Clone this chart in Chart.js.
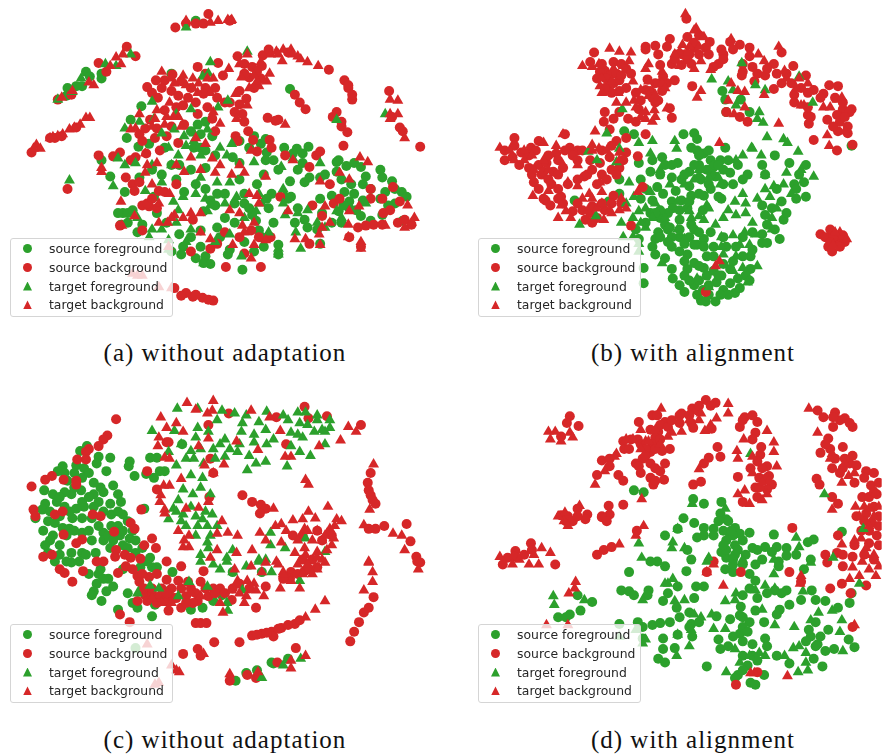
<!DOCTYPE html>
<html>
<head>
<meta charset="utf-8">
<title>t-SNE panels</title>
<script src="https://cdn.jsdelivr.net/npm/chart.js@4"></script>
<style>
  html, body { margin: 0; padding: 0; background: #fff; }
  #page { position: relative; width: 888px; height: 756px; overflow: hidden; }
  canvas { position: absolute; }
  .legend { position: absolute; width: 161px; height: 77px; border: 1px solid #d5d5d5; border-radius: 3px;
    background: rgba(255,255,255,0.8); font: 12.4px "DejaVu Sans"; color: #262626; }
  .legend div { position: absolute; left: 38px; white-space: nowrap; line-height: 16px; }
  .legend i { position: absolute; left: -26px; top: 3px; width: 9px; height: 9px; }
  .caption { position: absolute; width: 444px; text-align: center; font: 25px "Liberation Serif"; letter-spacing: 1px; color: #111; white-space: nowrap; }
</style>
</head>
<body>
<div id="page"></div>
<script>
const seriesNames = ['source foreground', 'source background', 'target foreground', 'target background'];
const seriesColors = ['#2ca02c', '#d62728', '#2ca02c', '#d62728'];
const seriesShapes = ['circle', 'circle', 'triangle', 'triangle'];

// panel (a)
const aSrcFg = [[195,15],[82,68],[86,73],[98,70],[98,75],[63,85],[78,83],[72,83],[62,93],[139,104],[128,118],[124,137],[136,146],[147,143],[98,160],[197,123],[200,133],[193,147],[200,147],[170,70],[163,147],[292,86],[250,147],[262,143],[267,138],[268,152],[267,160],[240,163],[233,157],[286,147],[299,148],[311,146],[305,153],[295,153],[340,162],[342,160],[350,166],[358,163],[365,167],[305,163],[107,177],[122,193],[120,215],[118,227],[137,178],[152,198],[140,227],[125,215],[183,193],[210,202],[217,195],[215,207],[203,213],[217,230],[200,233],[178,237],[182,250],[180,258],[200,250],[205,260],[203,267],[230,253],[228,258],[243,274],[257,223],[260,233],[263,240],[253,217],[280,248],[280,258],[273,195],[292,182],[287,198],[293,198],[307,183],[323,178],[328,175],[340,172],[323,200],[335,197],[348,193],[353,203],[358,195],[367,202],[365,218],[375,223],[370,177],[367,185],[387,178],[397,182],[390,193],[407,193],[412,198],[393,207],[387,217],[408,223],[307,222],[310,230],[320,232],[297,225],[325,215],[342,213],[353,210],[347,207],[323,247],[170,165],[205,168],[240,180],[258,185],[268,200],[245,205],[225,220],[205,120],[190,130],[212,135],[205,150],[215,155],[178,165],[190,170],[150,170],[160,175],[175,180],[195,185],[205,190],[225,195],[235,205],[245,195],[250,210],[270,210],[275,225],[265,250],[255,255],[245,245],[235,225],[220,240],[190,240],[170,255],[195,262],[210,268],[300,170],[312,178],[345,180],[355,185],[375,190],[385,200],[400,205],[385,170],[400,190],[300,210],[290,200],[335,225],[345,225],[360,212],[240,140],[255,135],[275,160],[280,170],[265,175],[130,212],[125,225],[135,235],[155,215],[165,225],[115,215]];
const aSrcBg = [[174,22],[185,18],[195,18],[208,8],[203,18],[230,15],[124,42],[133,52],[95,59],[103,68],[67,92],[53,97],[72,126],[57,135],[50,137],[45,137],[26,152],[145,84],[154,77],[163,77],[171,71],[197,63],[218,59],[223,72],[156,95],[170,88],[177,93],[187,95],[205,85],[203,91],[217,95],[207,105],[182,103],[197,112],[212,117],[163,108],[143,127],[137,133],[140,140],[153,137],[177,142],[95,155],[117,152],[110,156],[133,157],[128,160],[144,153],[158,150],[183,123],[238,52],[245,60],[264,51],[253,63],[263,62],[250,74],[262,75],[247,96],[240,102],[243,112],[249,130],[254,139],[271,139],[273,147],[258,151],[236,135],[238,140],[269,116],[280,118],[277,119],[332,66],[348,77],[352,85],[356,97],[356,92],[308,107],[302,100],[297,92],[336,115],[345,125],[351,131],[347,145],[426,146],[394,88],[397,115],[405,126],[408,130],[287,155],[319,155],[323,151],[312,167],[63,190],[123,178],[130,185],[132,192],[140,207],[147,208],[137,183],[157,192],[163,193],[117,228],[140,233],[192,222],[190,255],[210,252],[217,247],[226,271],[262,271],[272,240],[252,233],[245,257],[282,198],[315,207],[333,185],[337,205],[343,200],[375,190],[398,188],[387,200],[405,203],[388,215],[403,225],[378,227],[370,228],[362,230],[387,227],[417,227],[353,240],[365,250],[325,218],[312,247],[185,298],[192,302],[202,303],[213,306],[173,293],[160,85],[180,78],[190,85],[150,90],[195,100],[175,105],[170,125],[155,127],[148,118],[165,135],[245,70],[258,68],[255,85],[240,88],[230,100],[235,110],[245,120],[345,120],[340,110],[352,82],[205,70],[215,85],[225,100],[215,130],[145,205],[150,200],[175,185],[155,210],[225,235],[240,240],[260,240],[180,301],[195,300],[208,305],[270,45],[290,48],[375,200],[395,212],[410,222]];
const aTgtFg = [[185,22],[77,75],[102,60],[113,62],[128,50],[53,97],[68,89],[210,58],[202,73],[150,99],[190,107],[218,105],[175,112],[152,117],[137,120],[122,127],[160,132],[173,128],[183,135],[207,128],[167,147],[220,147],[115,158],[122,165],[177,155],[133,163],[193,140],[193,132],[208,70],[248,47],[340,118],[390,112],[232,143],[227,155],[255,162],[283,167],[323,163],[228,98],[295,158],[65,181],[110,187],[143,192],[160,183],[172,203],[182,198],[177,212],[160,232],[190,232],[207,213],[210,207],[200,178],[217,183],[230,183],[237,198],[263,205],[257,213],[287,217],[310,212],[298,235],[303,252],[280,258],[242,260],[203,267],[230,237],[280,252],[328,230],[340,213],[285,190],[147,240],[167,243],[167,253],[185,145],[200,155],[170,165],[150,165],[195,195],[205,200],[225,205],[245,220],[260,195],[285,205],[300,215],[320,225],[345,220],[370,205],[135,220],[150,232],[175,225],[185,245],[215,245],[270,235]];
const aTgtBg = [[185,15],[210,17],[218,15],[228,14],[232,14],[113,53],[120,50],[118,60],[85,79],[90,82],[57,95],[107,62],[68,88],[82,116],[86,116],[76,123],[70,126],[65,128],[58,133],[53,135],[48,136],[45,137],[31,144],[35,148],[28,148],[182,72],[192,75],[207,75],[213,75],[198,80],[173,80],[185,82],[168,100],[155,108],[153,117],[163,123],[137,112],[133,127],[128,128],[177,115],[172,115],[213,110],[220,122],[197,90],[195,137],[205,143],[212,158],[190,157],[220,165],[143,153],[155,163],[98,168],[231,15],[248,50],[272,50],[278,47],[285,45],[293,45],[295,50],[284,57],[303,55],[310,58],[321,62],[229,65],[242,74],[260,83],[271,70],[258,78],[236,91],[248,103],[237,117],[287,123],[395,97],[403,98],[403,112],[395,112],[395,117],[410,137],[364,157],[372,162],[252,150],[295,160],[98,172],[118,203],[132,218],[119,228],[143,173],[150,185],[168,195],[157,205],[157,225],[166,225],[173,217],[182,220],[200,235],[210,242],[233,248],[230,212],[240,215],[243,228],[252,262],[255,248],[267,243],[250,195],[258,197],[267,177],[245,173],[232,175],[215,173],[183,172],[290,213],[297,242],[308,242],[323,248],[322,237],[333,225],[352,227],[363,208],[353,213],[328,208],[323,182],[343,173],[353,180],[413,207],[417,225],[365,252],[352,240],[130,278],[135,280],[140,280],[157,292],[170,293],[167,250],[160,68],[170,75],[192,85],[210,90],[180,125],[150,125],[165,115],[145,165],[175,165],[200,170],[240,165],[240,60],[262,58],[255,72],[268,78],[250,85],[280,50],[300,52],[200,215],[245,235],[255,225],[260,205],[325,230],[365,245],[390,228],[410,230],[420,220],[170,220],[190,215]];

// panel (b)
const bSrcFg = [[724,88],[727,97],[743,97],[728,110],[752,110],[623,130],[633,133],[684,133],[695,132],[698,138],[692,147],[698,150],[727,147],[662,157],[652,160],[638,163],[665,165],[678,163],[705,153],[712,160],[722,160],[715,167],[778,155],[765,165],[793,163],[810,165],[857,145],[572,202],[607,203],[618,195],[618,180],[657,188],[663,195],[672,203],[673,210],[682,202],[692,197],[705,197],[720,198],[723,200],[672,178],[682,180],[702,180],[717,177],[732,173],[768,175],[803,175],[808,183],[798,185],[810,198],[800,200],[785,203],[765,207],[768,217],[787,222],[770,227],[778,232],[783,242],[765,237],[765,246],[770,246],[692,227],[695,232],[665,227],[668,232],[660,220],[652,202],[635,232],[638,242],[655,242],[652,250],[655,258],[672,250],[680,240],[685,247],[705,242],[715,250],[728,250],[708,260],[695,267],[688,273],[685,280],[672,273],[673,283],[685,297],[702,306],[707,307],[717,307],[737,298],[742,293],[732,288],[732,273],[723,280],[718,287],[753,273],[753,260],[748,280],[755,253],[643,272],[643,288],[715,260],[712,172],[708,170],[716,165],[700,165],[690,172],[725,170],[700,178],[710,185],[690,187],[676,192],[688,210],[704,212],[680,222],[672,240],[698,248],[688,258],[705,272],[715,275],[725,295],[695,290],[704,295],[650,172],[640,180],[645,190],[660,175],[672,165],[685,175],[695,165],[700,155],[710,150],[720,165],[730,160],[740,165],[750,175],[745,180],[735,185],[725,185],[712,190],[700,195],[690,203],[680,212],[668,215],[660,212],[650,215],[645,225],[658,235],[670,230],[680,232],[690,240],[700,235],[712,235],[725,240],[738,250],[745,260],[735,265],[725,268],[720,280],[710,290],[700,285],[690,285],[680,290],[705,250],[695,248],[680,255],[665,262],[752,285],[745,240],[755,235],[775,210],[790,215],[800,190],[780,190],[660,240],[668,245],[640,200],[655,215],[730,300],[740,283],[710,300],[698,300],[722,300],[708,280],[700,270],[685,265]];
const bSrcBg = [[687,13],[688,32],[670,34],[645,42],[645,45],[655,41],[667,42],[658,50],[677,50],[683,50],[695,43],[707,43],[711,37],[732,37],[742,40],[752,43],[723,45],[725,50],[752,52],[755,63],[745,68],[744,72],[720,60],[715,63],[692,60],[682,61],[672,60],[660,61],[592,48],[588,58],[612,58],[603,67],[608,72],[615,70],[608,80],[618,77],[607,88],[618,88],[647,76],[660,80],[675,77],[667,80],[693,83],[635,90],[645,87],[640,98],[655,100],[658,98],[638,107],[603,110],[612,117],[602,120],[627,117],[635,120],[618,110],[672,116],[670,106],[757,78],[768,72],[777,60],[785,80],[777,86],[797,62],[798,92],[798,100],[812,113],[813,122],[818,87],[828,91],[834,82],[843,83],[848,107],[857,107],[832,118],[842,113],[853,125],[853,132],[843,130],[818,139],[858,144],[842,150],[785,48],[728,110],[742,115],[750,120],[645,133],[615,140],[625,137],[625,152],[637,156],[608,128],[510,137],[527,147],[535,140],[500,160],[508,157],[553,153],[562,133],[567,147],[575,150],[535,165],[543,163],[588,160],[598,163],[608,157],[530,183],[538,175],[542,202],[547,207],[612,197],[642,188],[630,228],[583,222],[588,215],[603,212],[570,213],[582,177],[558,198],[707,297],[825,237],[835,232],[833,250],[837,255],[842,245],[850,245],[842,238],[548,185],[555,190],[598,68],[604,75],[612,80],[620,72],[625,65],[600,60],[595,75],[610,90],[625,85],[620,60],[603,85],[630,70],[655,80],[650,88],[662,88],[652,95],[663,73],[690,50],[695,38],[700,30],[688,55],[675,55],[510,145],[500,150],[517,152],[525,155],[532,150],[545,155],[555,160],[562,150],[570,155],[575,160],[580,150],[515,165],[525,168],[540,172],[550,172],[560,168],[528,175],[535,190],[545,180],[555,175],[565,185],[575,180],[585,175],[590,170],[600,175],[610,170],[605,180],[595,185],[600,150],[610,145],[618,168],[622,160],[615,175],[540,200],[560,205],[575,205],[590,208],[600,205],[610,205],[595,220],[580,212],[590,225],[620,205],[555,200],[840,95],[848,100],[855,110],[845,120],[838,125],[850,115],[805,85],[812,90],[810,72],[795,80],[790,70],[780,70],[770,65],[745,60],[760,70],[825,95],[812,105],[815,115],[735,45],[725,55],[700,50],[710,50],[830,240],[838,240],[845,250],[835,245],[848,238]];
const bTgtFg = [[744,59],[713,76],[730,78],[735,87],[758,82],[768,87],[803,73],[817,100],[738,103],[762,110],[760,117],[766,121],[770,136],[787,138],[791,142],[802,151],[764,155],[754,147],[745,155],[738,160],[675,140],[677,148],[652,140],[638,142],[618,148],[586,151],[605,132],[621,107],[650,153],[615,162],[595,160],[755,148],[577,227],[594,218],[628,183],[633,198],[650,193],[638,213],[632,220],[652,220],[645,230],[722,185],[730,212],[737,203],[748,205],[748,215],[755,225],[773,198],[768,190],[777,187],[787,185],[818,177],[790,173],[768,175],[747,235],[758,237],[735,238],[723,240],[723,250],[742,248],[752,248],[750,287],[698,283],[710,292],[662,267],[678,232],[685,242],[690,213],[678,203],[708,207],[717,227],[705,222],[692,220],[738,217],[775,220],[775,232],[622,240],[632,240],[638,247],[638,255],[660,170],[670,185],[685,185],[695,180],[700,170],[710,178],[720,178],[655,205],[665,220],[645,210],[640,225],[620,225],[625,205],[700,218],[710,210],[725,220],[745,195],[760,200],[780,210],[795,195],[805,170],[738,260],[725,258],[735,275],[745,272],[760,270]];
const bTgtBg = [[686,8],[697,23],[705,32],[695,25],[690,42],[683,40],[680,47],[630,48],[618,47],[608,44],[580,62],[597,60],[590,63],[612,65],[622,62],[628,57],[632,78],[648,60],[645,65],[662,68],[695,65],[702,57],[712,66],[733,34],[782,42],[761,50],[767,57],[788,67],[812,80],[803,75],[767,92],[747,89],[740,88],[733,80],[730,98],[747,105],[736,112],[698,95],[702,88],[598,83],[617,90],[648,93],[633,98],[667,106],[654,108],[645,110],[652,120],[645,117],[593,130],[590,144],[597,148],[618,152],[618,160],[560,133],[540,142],[495,147],[520,160],[528,155],[553,145],[832,134],[834,145],[828,105],[842,97],[847,95],[808,103],[805,103],[782,122],[721,142],[640,87],[662,80],[665,85],[529,197],[545,192],[558,207],[555,220],[568,220],[565,183],[587,195],[598,183],[600,193],[602,222],[618,212],[608,213],[637,193],[717,270],[721,265],[845,235],[852,242],[563,213],[585,213],[595,210],[575,187],[600,75],[610,78],[600,90],[625,100],[615,100],[655,92],[648,78],[688,48],[700,42],[675,50],[680,62],[635,105],[640,115],[655,115],[505,150],[520,150],[510,160],[540,160],[560,165],[575,165],[530,170],[545,170],[590,150],[605,150],[590,200],[600,205],[610,215],[580,200],[620,200],[625,210],[800,85],[790,75],[835,105],[850,130],[840,235],[838,248]];

// panel (c)
const cSrcFg = [[76,447],[83,442],[95,453],[107,454],[93,460],[103,468],[58,463],[53,468],[72,462],[80,465],[78,475],[63,478],[39,488],[48,492],[52,500],[40,502],[37,508],[30,517],[43,520],[50,522],[58,527],[65,528],[38,530],[48,535],[55,545],[43,553],[67,553],[78,553],[92,553],[62,562],[75,562],[82,555],[97,485],[90,492],[110,483],[115,492],[107,502],[118,500],[80,505],[72,507],[68,517],[78,517],[88,517],[108,513],[120,513],[108,525],[100,532],[100,540],[78,532],[88,540],[117,535],[127,538],[133,540],[125,548],[133,553],[148,558],[107,548],[127,458],[126,463],[132,473],[148,454],[155,454],[158,468],[163,468],[144,471],[152,475],[181,440],[142,507],[77,488],[78,500],[67,492],[50,562],[67,563],[97,570],[93,585],[90,593],[88,597],[98,603],[103,593],[110,588],[125,595],[130,605],[135,610],[138,568],[150,568],[171,573],[167,593],[153,607],[150,619],[115,612],[190,612],[202,610],[213,603],[222,597],[233,573],[263,573],[273,667],[275,668],[236,686],[247,678],[258,675],[290,663],[133,652],[60,470],[70,470],[85,470],[90,480],[100,490],[95,500],[85,495],[70,485],[60,490],[55,495],[60,505],[45,510],[55,515],[65,510],[90,505],[100,510],[115,510],[125,520],[115,525],[120,530],[105,535],[95,525],[85,530],[70,530],[62,535],[45,540],[40,545],[55,555],[110,540],[120,545],[140,548],[130,530],[145,562],[155,568],[85,575],[105,580],[120,570],[95,575],[100,580],[140,590]];
const cSrcBg = [[113,414],[104,431],[100,435],[95,442],[85,445],[82,448],[73,456],[82,456],[47,473],[40,477],[59,477],[72,478],[72,482],[26,484],[28,508],[30,515],[50,513],[58,510],[89,513],[97,515],[139,508],[128,522],[132,528],[111,531],[59,534],[78,539],[72,543],[38,557],[47,555],[142,545],[150,538],[154,548],[113,550],[112,557],[122,555],[128,558],[138,559],[93,562],[100,562],[165,562],[145,468],[155,487],[167,438],[210,455],[209,495],[229,408],[278,412],[307,401],[311,413],[330,411],[288,440],[365,420],[375,470],[372,480],[373,488],[375,493],[377,498],[380,502],[243,493],[253,500],[262,503],[267,507],[261,512],[389,525],[380,528],[373,528],[412,523],[416,541],[422,557],[426,563],[208,420],[165,438],[213,470],[55,570],[60,574],[68,583],[79,572],[115,574],[117,617],[127,625],[123,567],[135,577],[137,583],[147,578],[165,581],[135,603],[143,597],[153,600],[165,603],[167,613],[180,567],[177,582],[187,583],[200,583],[203,572],[180,610],[197,603],[213,590],[220,590],[232,602],[233,590],[195,626],[200,626],[206,626],[214,646],[240,646],[257,610],[267,588],[182,658],[197,653],[200,660],[230,686],[248,680],[257,683],[279,667],[298,652],[253,639],[263,637],[273,635],[283,631],[297,627],[302,623],[378,599],[368,615],[363,625],[358,635],[354,645],[373,610],[293,573],[307,572],[320,568],[292,580],[423,562],[150,595],[158,598],[172,600],[185,598],[192,605],[208,598],[130,570],[140,575],[155,575],[142,590],[150,590],[160,590],[170,590],[180,590],[190,590],[175,600],[165,595],[145,603],[155,605],[185,605],[195,595],[205,590],[215,595],[225,595],[240,585],[250,590],[285,580],[300,575],[312,570],[305,560],[315,560],[325,540],[335,535],[320,530],[305,535],[295,535],[275,640],[290,628],[258,638],[268,636],[280,632]];
const cTgtFg = [[176,403],[197,403],[222,405],[235,408],[247,410],[260,417],[268,406],[285,410],[300,407],[320,410],[333,415],[308,407],[290,415],[302,418],[328,427],[333,423],[317,427],[267,425],[150,426],[173,426],[242,427],[197,423],[195,433],[208,427],[243,418],[217,415],[293,428],[305,433],[328,440],[293,442],[275,435],[268,440],[255,438],[225,435],[220,440],[213,445],[190,447],[167,448],[193,455],[203,460],[225,453],[238,448],[250,452],[257,460],[248,467],[267,458],[289,463],[302,448],[313,452],[175,462],[190,472],[202,475],[200,485],[182,487],[192,492],[210,492],[177,498],[172,507],[167,518],[182,513],[202,518],[212,513],[185,525],[197,525],[207,525],[217,525],[207,542],[200,555],[208,548],[233,550],[227,558],[260,560],[267,560],[272,532],[287,548],[272,545],[308,538],[328,552],[148,587],[157,590],[135,595],[177,598],[188,583],[207,588],[213,565],[220,570],[227,605],[228,613],[243,592],[302,582],[273,573],[247,567],[233,573],[263,683],[285,670],[303,663],[200,562],[227,562],[260,562],[185,455],[180,440],[200,445],[215,455],[230,445],[240,440],[255,430],[310,420],[320,415],[325,425],[300,430],[190,505],[195,515],[180,520],[205,510],[175,510],[195,535],[210,535]];
const cTgtBg = [[186,397],[213,395],[195,404],[207,408],[212,405],[252,405],[271,412],[159,412],[175,418],[165,423],[182,427],[157,433],[156,442],[208,434],[198,442],[237,437],[259,446],[282,426],[322,442],[352,422],[360,427],[344,436],[287,453],[293,453],[378,461],[163,454],[168,455],[204,462],[224,461],[213,470],[180,476],[308,477],[311,482],[162,483],[168,483],[159,493],[158,500],[208,500],[163,508],[163,512],[185,507],[198,506],[275,507],[222,520],[295,519],[305,518],[318,517],[331,505],[340,518],[311,510],[374,508],[368,524],[398,533],[407,535],[410,550],[177,530],[183,540],[188,535],[182,547],[188,547],[217,533],[228,532],[238,535],[261,532],[267,540],[283,542],[283,523],[277,525],[288,530],[307,528],[333,528],[337,538],[325,540],[307,548],[320,552],[253,550],[217,550],[237,553],[297,553],[308,555],[320,558],[330,533],[373,562],[210,558],[267,563],[278,562],[328,563],[373,563],[377,573],[377,583],[368,592],[328,603],[318,612],[308,620],[302,590],[282,590],[263,573],[252,567],[235,570],[238,582],[248,582],[247,598],[257,592],[265,598],[223,615],[232,592],[207,598],[175,675],[178,677],[230,679],[259,677],[293,673],[308,660],[293,665],[203,658],[145,648],[170,670],[157,688],[153,690],[285,573],[293,582],[320,570],[424,570],[330,550],[315,575],[325,560],[150,600],[160,605],[170,605],[190,595],[200,598],[220,605],[240,595],[245,605],[255,585],[300,565],[310,565],[335,545],[328,535],[338,525],[320,530],[310,530],[300,540],[315,540],[285,575],[305,575],[280,565],[345,520]];

// panel (d)
const dSrcFg = [[633,488],[643,490],[694,497],[705,502],[723,500],[684,517],[695,522],[705,527],[715,528],[722,512],[728,518],[737,527],[732,535],[752,532],[777,534],[818,539],[812,542],[847,531],[665,535],[678,528],[688,550],[692,560],[657,562],[755,548],[768,547],[780,547],[790,548],[765,560],[782,562],[815,560],[728,558],[737,555],[742,533],[723,552],[698,537],[737,545],[728,540],[745,540],[725,530],[735,535],[728,550],[735,560],[650,562],[665,567],[687,572],[628,573],[620,592],[628,593],[633,597],[648,592],[647,597],[668,595],[663,603],[677,610],[695,600],[678,588],[697,588],[705,588],[727,570],[735,573],[758,565],[782,567],[808,570],[758,582],[778,592],[790,592],[793,607],[805,602],[816,592],[820,602],[830,603],[843,610],[855,605],[857,595],[783,612],[780,617],[743,609],[742,618],[732,622],[718,619],[758,613],[752,625],[767,625],[745,630],[742,637],[768,642],[755,648],[720,643],[722,653],[675,652],[663,653],[658,663],[665,667],[663,642],[642,630],[652,628],[660,626],[670,625],[678,638],[692,627],[693,640],[708,671],[740,680],[737,683],[753,688],[758,690],[767,680],[780,660],[793,668],[818,663],[827,671],[839,653],[860,651],[854,643],[833,633],[813,633],[822,648],[575,597],[590,604],[578,613],[567,617],[555,620],[563,620],[618,627],[637,625],[642,642],[725,545],[740,550],[748,555],[733,530],[745,565],[752,575],[735,565],[715,535],[705,535],[730,520],[720,520],[760,550],[775,552],[790,556],[800,555],[752,590],[745,597],[760,600],[770,595],[785,595],[745,620],[750,635],[735,640],[745,645],[730,650],[755,660],[750,670],[745,660],[745,675],[760,665],[770,650],[820,625],[815,640],[825,640],[810,645],[830,655],[820,650],[690,630],[680,620],[700,625],[690,615]];
const dSrcBg = [[567,411],[564,418],[576,421],[558,432],[638,417],[652,410],[657,410],[682,408],[693,403],[698,405],[707,394],[717,397],[692,418],[694,423],[713,424],[680,418],[665,417],[658,427],[655,433],[652,440],[622,437],[623,445],[637,435],[642,455],[635,460],[638,463],[650,448],[662,447],[670,445],[600,457],[608,455],[608,463],[595,472],[617,472],[622,478],[660,468],[664,477],[650,475],[653,482],[719,443],[722,453],[710,454],[705,460],[740,474],[694,482],[702,479],[747,412],[742,422],[760,417],[758,428],[755,435],[764,443],[763,451],[753,465],[770,463],[762,475],[772,473],[775,482],[758,485],[770,487],[760,495],[745,500],[607,504],[622,503],[600,516],[608,513],[575,507],[585,513],[558,514],[563,520],[583,518],[636,530],[822,405],[840,407],[850,413],[858,422],[838,422],[833,434],[848,443],[858,452],[825,449],[837,465],[848,465],[855,460],[872,468],[821,476],[824,482],[837,495],[843,502],[877,483],[868,495],[883,492],[872,512],[867,530],[878,522],[883,535],[875,543],[842,553],[830,555],[858,557],[880,560],[843,535],[796,527],[595,555],[602,550],[610,547],[527,543],[511,551],[503,558],[552,565],[715,562],[498,565],[743,573],[793,573],[835,590],[856,595],[848,567],[832,563],[872,587],[847,585],[738,690],[760,677],[708,573],[805,583],[858,630],[640,440],[645,445],[655,445],[660,435],[650,425],[660,420],[668,422],[672,415],[680,410],[690,410],[700,400],[712,400],[645,452],[650,460],[640,470],[655,465],[628,445],[630,435],[665,460],[655,478],[835,445],[840,455],[850,455],[862,462],[870,475],[880,470],[885,480],[875,495],[880,505],[870,520],[862,515],[875,530],[885,515],[860,480],[845,470],[830,440],[828,412],[845,415],[855,418],[838,412],[885,525],[885,545],[870,555],[860,545],[848,555],[880,490],[770,475],[762,485],[765,465],[760,458],[745,415],[755,410],[600,515],[605,520],[565,515],[570,520],[575,515],[528,550],[520,555],[510,557]];
const dTgtFg = [[829,492],[753,450],[869,528],[800,537],[803,547],[638,543],[641,558],[693,502],[727,507],[678,528],[673,542],[685,548],[710,558],[745,560],[777,560],[838,558],[672,548],[550,598],[551,607],[582,602],[673,580],[668,585],[642,602],[685,602],[675,603],[695,617],[702,620],[713,617],[727,632],[715,632],[738,595],[758,592],[768,587],[778,590],[807,593],[727,603],[737,602],[765,612],[778,628],[798,630],[815,623],[823,615],[837,613],[847,623],[845,635],[848,655],[810,657],[797,652],[803,650],[810,667],[812,675],[802,677],[788,660],[762,657],[737,653],[728,677],[742,667],[752,660],[768,660],[677,660],[690,650],[678,638],[642,647],[645,643],[618,640],[692,633],[865,585],[815,563],[777,575],[745,562],[708,562],[665,585],[635,633]];
const dTgtBg = [[545,427],[552,427],[567,428],[570,433],[547,435],[558,437],[661,403],[640,425],[672,428],[682,427],[706,426],[712,420],[718,413],[730,398],[730,408],[702,408],[645,437],[625,435],[632,435],[615,450],[613,453],[603,468],[593,482],[641,497],[700,466],[746,435],[755,453],[739,447],[740,455],[770,426],[777,438],[777,448],[780,463],[772,478],[747,488],[740,492],[765,498],[752,502],[813,403],[822,428],[837,450],[854,473],[847,480],[861,505],[837,508],[875,507],[867,538],[847,544],[643,525],[635,535],[618,544],[562,511],[577,504],[561,520],[495,557],[527,550],[538,548],[547,553],[872,548],[573,583],[572,590],[566,595],[543,628],[565,628],[508,565],[525,565],[535,565],[715,565],[708,573],[725,587],[805,577],[804,585],[858,568],[865,577],[875,570],[882,577],[855,580],[868,562],[757,678],[753,678],[791,681],[860,628],[885,567],[882,490],[870,505],[880,515],[875,525],[885,505],[865,515],[835,455],[850,460],[860,470],[655,425],[648,437],[640,445],[660,440],[668,432],[690,415],[700,415],[755,470],[765,480],[770,492],[860,540],[872,555],[880,555],[530,555],[515,560],[555,515],[565,525]];

const captions = ['(a) without adaptation', '(b) with alignment', '(c) without adaptation', '(d) with alignment'];
const panelSeries = [
  [aSrcFg, aSrcBg, aTgtFg, aTgtBg],
  [bSrcFg, bSrcBg, bTgtFg, bTgtBg],
  [cSrcFg, cSrcBg, cTgtFg, cTgtBg],
  [dSrcFg, dSrcBg, dTgtFg, dTgtBg]
];

const page = document.getElementById('page');

panelSeries.forEach((series, p) => {
  const left = p % 2 ? 444 : 0;
  const top = p > 1 ? 385 : 0;

  const canvas = document.createElement('canvas');
  canvas.width = 444;
  canvas.height = 330;
  canvas.style.left = left + 'px';
  canvas.style.top = top + 'px';
  page.appendChild(canvas);

  new Chart(canvas, {
    type: 'scatter',
    data: {
      datasets: series.map((points, i) => ({
        label: seriesNames[i],
        data: points,
        order: 3 - i, // later series painted on top, like matplotlib
        pointStyle: seriesShapes[i],
        pointRadius: seriesShapes[i] === 'circle' ? 5 : 6.3,
        borderWidth: 0,
        backgroundColor: seriesColors[i]
      }))
    },
    options: {
      responsive: false,
      animation: false,
      events: [],
      layout: { padding: 0 },
      plugins: { legend: { display: false }, tooltip: { enabled: false } },
      scales: {
        x: { display: false, min: left, max: left + 444 },
        y: { display: false, reverse: true, min: top, max: top + 330 }
      }
    }
  });

  // legend box sits over the points, semi transparent
  const box = document.createElement('div');
  box.className = 'legend';
  box.style.left = (left + (p % 2 ? 34 : 10)) + 'px';
  box.style.top = (top + 238 + (p > 1 ? 1 : 0)) + 'px';
  seriesNames.forEach((name, i) => {
    const row = document.createElement('div');
    row.style.top = (2 + i * 18.8) + 'px';
    row.textContent = name;
    const mark = document.createElement('i');
    mark.style.background = seriesColors[i];
    if (seriesShapes[i] === 'circle') mark.style.borderRadius = '50%';
    else mark.style.clipPath = 'polygon(50% 0, 100% 100%, 0 100%)';
    row.appendChild(mark);
    box.appendChild(row);
  });
  page.appendChild(box);

  const cap = document.createElement('div');
  cap.className = 'caption';
  cap.textContent = captions[p];
  cap.style.left = (left + (p % 2 ? 27 : 3)) + 'px';
  cap.style.top = (p > 1 ? 726 : 339) + 'px';
  page.appendChild(cap);
});
</script>
</body>
</html>
